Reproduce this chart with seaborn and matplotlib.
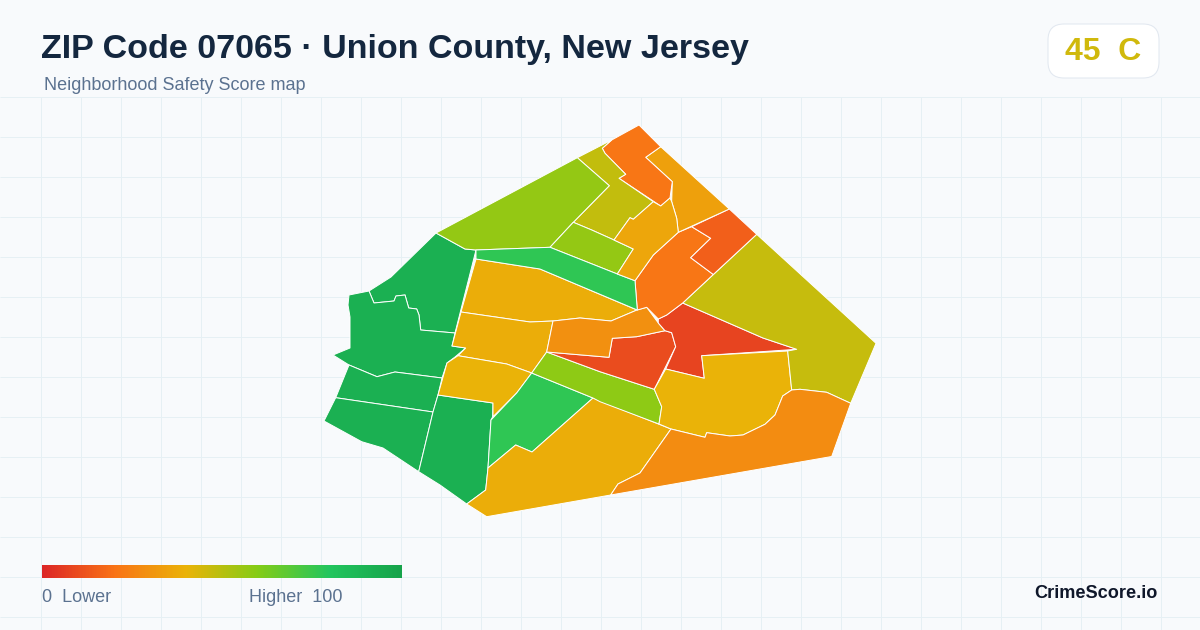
import numpy as np
import matplotlib
matplotlib.use("Agg")
import matplotlib.pyplot as plt
from matplotlib.collections import PolyCollection
from matplotlib.patches import FancyBboxPatch
import seaborn as sns

# neighborhood scores, same order as the outlines below
scores = [92, 92, 92, 92, 92, 38, 38, 40, 77, 38, 58, 10, 29, 8, 40, 47, 28, 21, 15, 34, 21, 48, 57, 57, 77, 36]

# outlines, in pixels
nw_green = [(436, 233), (465, 249), (476, 250), (455, 333), (420.7, 330), (419, 315), (416.7, 309), (408.7, 308), (405, 295), (396, 296), (394, 301), (374, 303), (369, 291), (391, 277)]
w_green = [(349, 295), (369, 291), (374, 303), (394, 301), (396, 296), (405, 295), (408.7, 308), (416.7, 309), (419, 315), (420.7, 330), (455, 333), (452, 346), (465.7, 348), (455, 357), (447, 363), (442, 378), (395, 372), (377, 376.7), (349, 365), (333, 355), (350, 348), (350, 317), (348, 305)]
row_green = [(349, 365), (377, 376.7), (395, 372), (442, 378), (438, 395), (433, 412), (335.7, 397.7)]
sw_green = [(335.7, 397.7), (433, 412), (418.7, 471.7), (383, 448), (361.7, 441.7), (324, 421)]
s_green = [(438, 395), (493, 403), (492.7, 416.7), (491, 420), (488, 468), (485.7, 490), (466.7, 504), (440, 485), (418.7, 471.7), (433, 412)]
mid_yellow = [(476, 259), (540, 269), (637, 310), (611, 321), (580, 318), (553, 321), (530, 322), (461, 312)]
west_amber = [(461, 312), (530, 322), (553, 321), (546.7, 352), (531.7, 373), (506.7, 364), (458, 355.7), (465.7, 348), (452, 346)]
low_yellow = [(447, 363), (458, 355.7), (506.7, 364), (531.7, 373), (516.7, 393), (493, 416.7), (493, 403), (438, 395)]
bright_green = [(531.7, 373), (593, 398), (532, 452), (515.7, 445), (488, 468), (491, 420), (516.7, 393)]
south_amber = [(593, 398), (671, 429), (640, 473), (618, 484), (610.7, 495), (486.7, 516.7), (466.7, 504), (485.7, 490), (488, 468), (515.7, 445), (532, 452)]
lime_strip = [(546.7, 352), (600, 371.7), (654.3, 389.3), (661.7, 406.7), (659, 424), (600, 401.7), (593, 398), (531.7, 373)]
red_block = [(546.7, 352), (609, 357.3), (612.3, 338.3), (636.7, 336.7), (665, 330.7), (671.7, 332.7), (675.7, 346.7), (654.3, 389.3), (600, 371.7)]
orange_strip = [(553, 321), (580, 318), (611, 321), (637, 310), (646.7, 307.3), (658.3, 323), (665, 330.7), (636.7, 336.7), (612.3, 338.3), (609, 357.3), (546.7, 352)]
center_red = [(682.7, 303), (763, 338), (796.7, 349.3), (701.7, 355.7), (704.3, 378.3), (665.7, 369), (675.7, 346.7), (671.7, 332.7), (665, 330.7), (658.3, 323), (658.3, 319), (666.7, 315)]
center_yellow = [(701.7, 355.7), (704.3, 378.3), (665.7, 369), (654.3, 389.3), (661.7, 406.7), (659, 424), (671, 429), (705, 437.3), (706.7, 432.7), (730, 436), (743, 435), (765, 424.3), (775, 415), (782.7, 396), (791.7, 390), (787.7, 351)]
east_olive = [(756.7, 234.3), (876, 343.3), (850.7, 403.3), (826.7, 392.3), (800, 389.3), (791.7, 390), (787.7, 351), (796.7, 349.3), (763, 338), (682.7, 303)]
se_orange = [(791.7, 390), (800, 389.3), (826.7, 392.3), (850.7, 403.3), (831.7, 456.5), (610.7, 495), (618, 484), (640, 473), (671, 429), (705, 437.3), (706.7, 432.7), (730, 436), (743, 435), (765, 424.3), (775, 415), (782.7, 396)]
mid_orange = [(678.3, 232.3), (691.7, 226.7), (710.7, 238.3), (690.7, 257.7), (713.3, 274.5), (682.7, 303), (666.7, 315), (658.3, 319), (646.7, 307.3), (637.3, 310), (635, 280.7), (653.3, 255)]
ne_red = [(691.7, 226.7), (729.3, 209), (756.7, 234.3), (713.3, 274.5), (690.7, 257.7), (710.7, 238.3)]
ne_amber = [(660.7, 146.7), (729.3, 209), (678.3, 232.3), (676.7, 218.3), (671.7, 201.7), (672.3, 181.7), (645.7, 157.3)]
top_orange = [(639, 125), (660.7, 146.7), (645.7, 157.3), (672.3, 181.7), (670, 198), (660.7, 206), (619, 178.3), (625.7, 174.3), (605, 153.3), (602.3, 148.3), (611.7, 140)]
top_olive = [(577.3, 157.7), (611.7, 140), (602.3, 148.3), (605, 153.3), (625.7, 174.3), (619, 178.3), (653.3, 201.7), (633.3, 219.3), (630, 217.7), (614, 240), (591.7, 230), (573.3, 222.3), (609.3, 185.7)]
north_lime = [(436, 233), (577.3, 157.7), (609.3, 185.7), (573.3, 222.3), (550, 247.3), (476, 250), (465, 249)]
small_lime = [(573.3, 222.3), (591.7, 230), (614, 240), (633.3, 249), (617.3, 274), (550, 247.3)]
north_green = [(550, 247.3), (617.3, 274), (635, 280.7), (637.3, 310), (540, 269), (476, 259), (476, 250)]
north_amber = [(633.3, 219.3), (653.3, 201.7), (660.7, 206), (670, 198), (671.7, 201.7), (676.7, 218.3), (678.3, 232.3), (653.3, 255), (635, 280.7), (617.3, 274), (633.3, 249), (614, 240), (630, 217.7)]

outlines = [nw_green, w_green, row_green, sw_green, s_green, mid_yellow, west_amber, low_yellow, bright_green, south_amber,
            lime_strip, red_block, orange_strip, center_red, center_yellow, east_olive, se_orange, mid_orange, ne_red, ne_amber,
            top_orange, top_olive, north_lime, small_lime, north_green, north_amber]

score_colors = ["#dc2626", "#f97316", "#eab308", "#84cc16", "#22c55e", "#16a34a"]
title = "ZIP Code 07065 · Union County, New Jersey"
subtitle = "Neighborhood Safety Score map"
overall_score = "45  C"

sns.set_theme(style="white")
plt.rcParams["font.family"] = ["Liberation Sans", "DejaVu Sans"]
cmap = sns.blend_palette(score_colors, as_cmap=True)

fig = plt.figure(figsize=(12, 6.3), dpi=100, facecolor="#f8fafc")
ax = fig.add_axes([0, 0, 1, 1])
ax.set_xlim(0, 1200)
ax.set_ylim(630, 0)
ax.axis("off")

# background grid only starts under the header
ax.vlines(np.arange(40.5, 1200, 40), 96.5, 630, color="#e6f0f4", lw=0.72, zorder=0)
ax.hlines(np.arange(96.5, 630, 40), 0, 1200, color="#e6f0f4", lw=0.72, zorder=0)

tracts = PolyCollection(outlines, array=np.array(scores), cmap=cmap, clim=(0, 100),
                        edgecolor="#ffffff", linewidth=0.7, zorder=2)
ax.add_collection(tracts)

ax.text(41, 49.5, title, fontsize=24.5, fontweight="bold", color="#14273f", va="center", ha="left")
ax.text(44, 86, subtitle, fontsize=12.95, color="#5b7290", va="center", ha="left")

badge = FancyBboxPatch((1056, 32), 95, 38, boxstyle="round,pad=8,rounding_size=16",
                       facecolor="#ffffff", edgecolor="#e2e8f0", lw=0.75, zorder=3)
ax.add_patch(badge)
ax.text(1065, 52, overall_score, fontsize=23, fontweight="bold", color=cmap(0.45), va="center", ha="left", zorder=4)

# legend bar
lax = fig.add_axes([42 / 1200, 1 - 578 / 630, 360 / 1200, 13 / 630])
sns.heatmap(np.linspace(0, 100, 360)[None, :], cmap=cmap, vmin=0, vmax=100, cbar=False,
            xticklabels=False, yticklabels=False, ax=lax, rasterized=True)

ax.text(42, 597, "0  Lower", fontsize=12.95, color="#5b7290", va="center", ha="left")
ax.text(249, 597, "Higher  100", fontsize=12.95, color="#5b7290", va="center", ha="left")
ax.text(1158, 593, "CrimeScore.io", fontsize=13.1, fontweight="bold", color="#0f172a", va="center", ha="right")

fig.savefig("out.png", dpi=100, facecolor=fig.get_facecolor())
